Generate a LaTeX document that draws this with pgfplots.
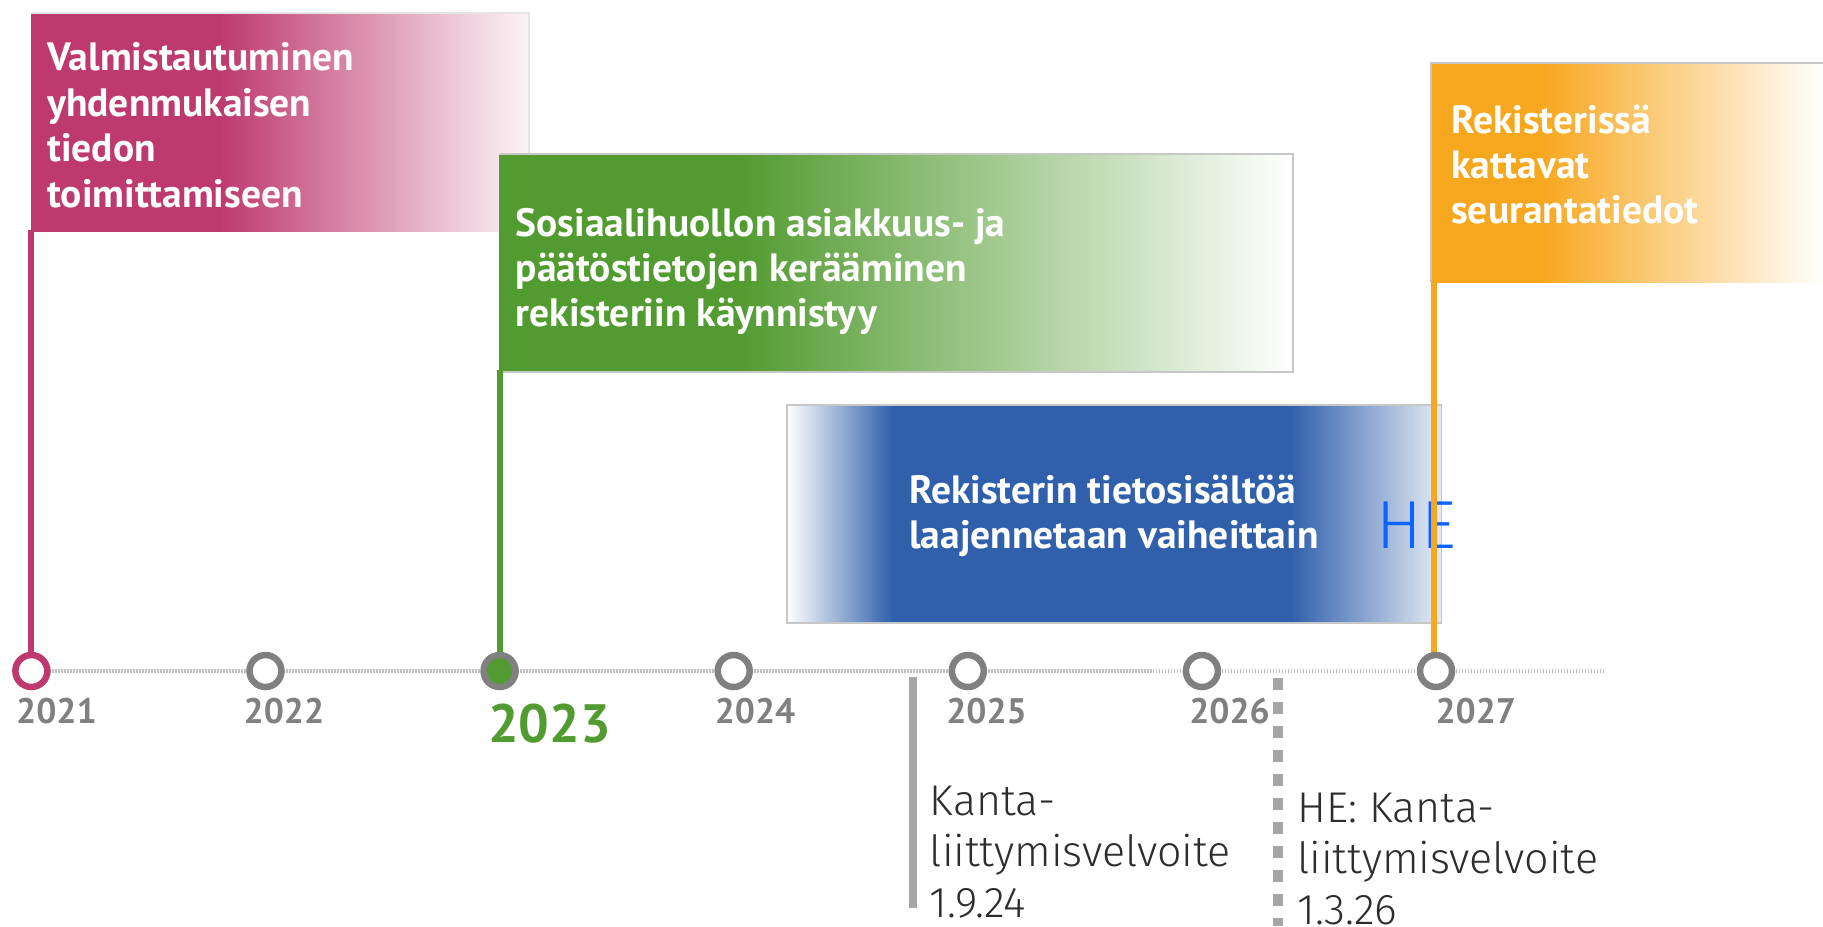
\documentclass[border=0pt]{standalone}
\usepackage{pgfplots}
\pgfplotsset{compat=1.18}
\usepackage{fontspec}
\setmainfont{PT Sans}
\newfontfamily\hb{PT Sans}
\newfontfamily\lt{Fira Sans Light}
\newfontfamily\ltn{Fira Sans Light}
\definecolor{mag}{RGB}{190,58,110}
\definecolor{grn}{RGB}{82,155,48}
\definecolor{blu}{RGB}{48,96,172}
\definecolor{org}{RGB}{247,167,30}
\definecolor{circ}{RGB}{128,128,128}
\definecolor{yeartxt}{RGB}{128,128,128}
\definecolor{barc}{RGB}{166,166,166}
\definecolor{dotc}{RGB}{190,190,190}
\definecolor{bottxt}{RGB}{45,45,45}
\definecolor{hec}{RGB}{10,100,255}
\pgfdeclarehorizontalshading{magfade}{100bp}{color(0bp)=(mag); color(25bp)=(mag); color(44bp)=(mag); color(75bp)=(mag!5); color(100bp)=(mag!5)}
\pgfdeclarehorizontalshading{grnfade}{100bp}{color(0bp)=(grn); color(25bp)=(grn); color(40bp)=(grn); color(75bp)=(white); color(100bp)=(white)}
\pgfdeclarehorizontalshading{orgfade}{100bp}{color(0bp)=(org); color(25bp)=(org); color(39bp)=(org); color(75bp)=(white); color(100bp)=(white)}
\pgfdeclarehorizontalshading{blufade}{100bp}{color(0bp)=(white); color(25bp)=(white); color(33bp)=(blu); color(63.5bp)=(blu); color(75bp)=(blu!12); color(100bp)=(blu!12)}
\begin{document}
\begin{tikzpicture}
\begin{axis}[name=ax, width=18.23cm, height=9.26cm, scale only axis, hide axis,
  xmin=2020.866, xmax=2028.653, ymin=0, ymax=926, y dir=reverse, clip=false]
% timeline
\addplot[dotc, line width=0.04cm, dash pattern=on 0.012cm off 0.018cm] coordinates {(2021,671) (2027.72,671)};
% gray markers
\addplot[barc, line width=0.08cm] coordinates {(2024.766,677) (2024.766,908)};
\addplot[barc, line width=0.1cm, dash pattern=on 0.12cm off 0.12cm] coordinates {(2026.323,678) (2026.323,926)};
% magenta flag
\addplot[draw=none, shade, shading=magfade] coordinates {(2021,13) (2023.126,13) (2023.126,231) (2021,231)} -- cycle;
\addplot[black!10, line width=0.015cm] coordinates {(2021,13) (2023.126,13) (2023.126,231)};
% green flag
\addplot[draw=none, shade, shading=grnfade] coordinates {(2023,154) (2026.388,154) (2026.388,372) (2023,372)} -- cycle;
\addplot[black!22, line width=0.015cm] coordinates {(2023,154) (2026.388,154) (2026.388,372) (2023,372)};
% blue box
\addplot[draw=none, shade, shading=blufade] coordinates {(2024.228,405) (2027.024,405) (2027.024,623) (2024.228,623)} -- cycle;
\addplot[black!22, line width=0.015cm] coordinates {(2024.228,405) (2027.024,405) (2027.024,623) (2024.228,623)} -- cycle;
% orange flag
\addplot[draw=none, shade, shading=orgfade] coordinates {(2026.979,63) (2028.653,63) (2028.653,282) (2026.979,282)} -- cycle;
\addplot[black!22, line width=0.015cm] coordinates {(2026.979,282) (2026.979,63) (2028.653,63)};
% HE
\node[anchor=base west, inner sep=0, font=\ltn\fontsize{0.68cm}{0.75cm}\selectfont, text=hec] at (axis cs:2026.742,548) {HE};
% poles
\addplot[mag, line width=0.06cm] coordinates {(2021,230) (2021,655)};
\addplot[grn, line width=0.06cm] coordinates {(2023.002,370) (2023.002,655)};
\addplot[org, line width=0.06cm] coordinates {(2026.99,280) (2026.99,655)};
% circles
\addplot[only marks, mark=*, mark size=4.55pt, mark options={draw=circ, fill=white, line width=0.065cm}] coordinates {(2022,671) (2024,671) (2025,671) (2026,671) (2027,671)};
\addplot[only marks, mark=*, mark size=4.55pt, mark options={draw=mag, fill=white, line width=0.065cm}] coordinates {(2021,671)};
\addplot[only marks, mark=*, mark size=4.55pt, mark options={draw=circ, fill=grn, line width=0.065cm}] coordinates {(2023,671)};
% year labels
\begin{scope}[every node/.style={anchor=base, inner sep=0, font=\hb\bfseries\fontsize{0.355cm}{0.4cm}\selectfont, text=yeartxt}]
\node at (axis cs:2021.107,723) {2021};
\node at (axis cs:2022.079,723) {2022};
\node at (axis cs:2024.091,723) {2024};
\node at (axis cs:2025.080,723) {2025};
\node at (axis cs:2026.118,723) {2026};
\node at (axis cs:2027.170,723) {2027};
\end{scope}
\node[anchor=base, inner sep=0, font=\hb\bfseries\fontsize{0.54cm}{0.6cm}\selectfont, text=grn] at (axis cs:2023.213,742) {2023};
% flag texts
\begin{scope}[every node/.style={anchor=base west, inner sep=0, font=\hb\bfseries\fontsize{0.395cm}{0.44cm}\selectfont, text=white}]
\node at (axis cs:2021.065,71) {Valmistautuminen};
\node at (axis cs:2021.065,116.3) {yhdenmukaisen};
\node at (axis cs:2021.065,161.6) {tiedon};
\node at (axis cs:2021.065,207) {toimittamiseen};
\node at (axis cs:2027.062,133) {Rekisteriss\"a};
\node at (axis cs:2027.062,178) {kattavat};
\node at (axis cs:2027.062,223) {seurantatiedot};
\node at (axis cs:2023.066,236) {Sosiaalihuollon asiakkuus- ja};
\node at (axis cs:2023.066,281) {p\"a\"at\"ostietojen ker\"a\"aminen};
\node at (axis cs:2023.066,326) {rekisteriin k\"aynnistyy};
\node at (axis cs:2024.747,503) {Rekisterin tietosis\"alt\"o\"a};
\node at (axis cs:2024.747,548) {laajennetaan vaiheittain};
\end{scope}
% bottom texts
\begin{scope}[every node/.style={anchor=base west, inner sep=0, font=\lt\fontsize{0.43cm}{0.5cm}\selectfont, text=bottxt}]
\node at (axis cs:2024.835,815) {Kanta-};
\node at (axis cs:2024.835,866) {liittymisvelvoite};
\node at (axis cs:2024.835,917) {1.9.24};
\node at (axis cs:2026.405,822) {HE: Kanta-};
\node at (axis cs:2026.405,873) {liittymisvelvoite};
\node at (axis cs:2026.405,924) {1.3.26};
\end{scope}
\end{axis}
\pgfresetboundingbox
\path[use as bounding box] (ax.south west) rectangle (ax.north east);
\end{tikzpicture}
\end{document}
